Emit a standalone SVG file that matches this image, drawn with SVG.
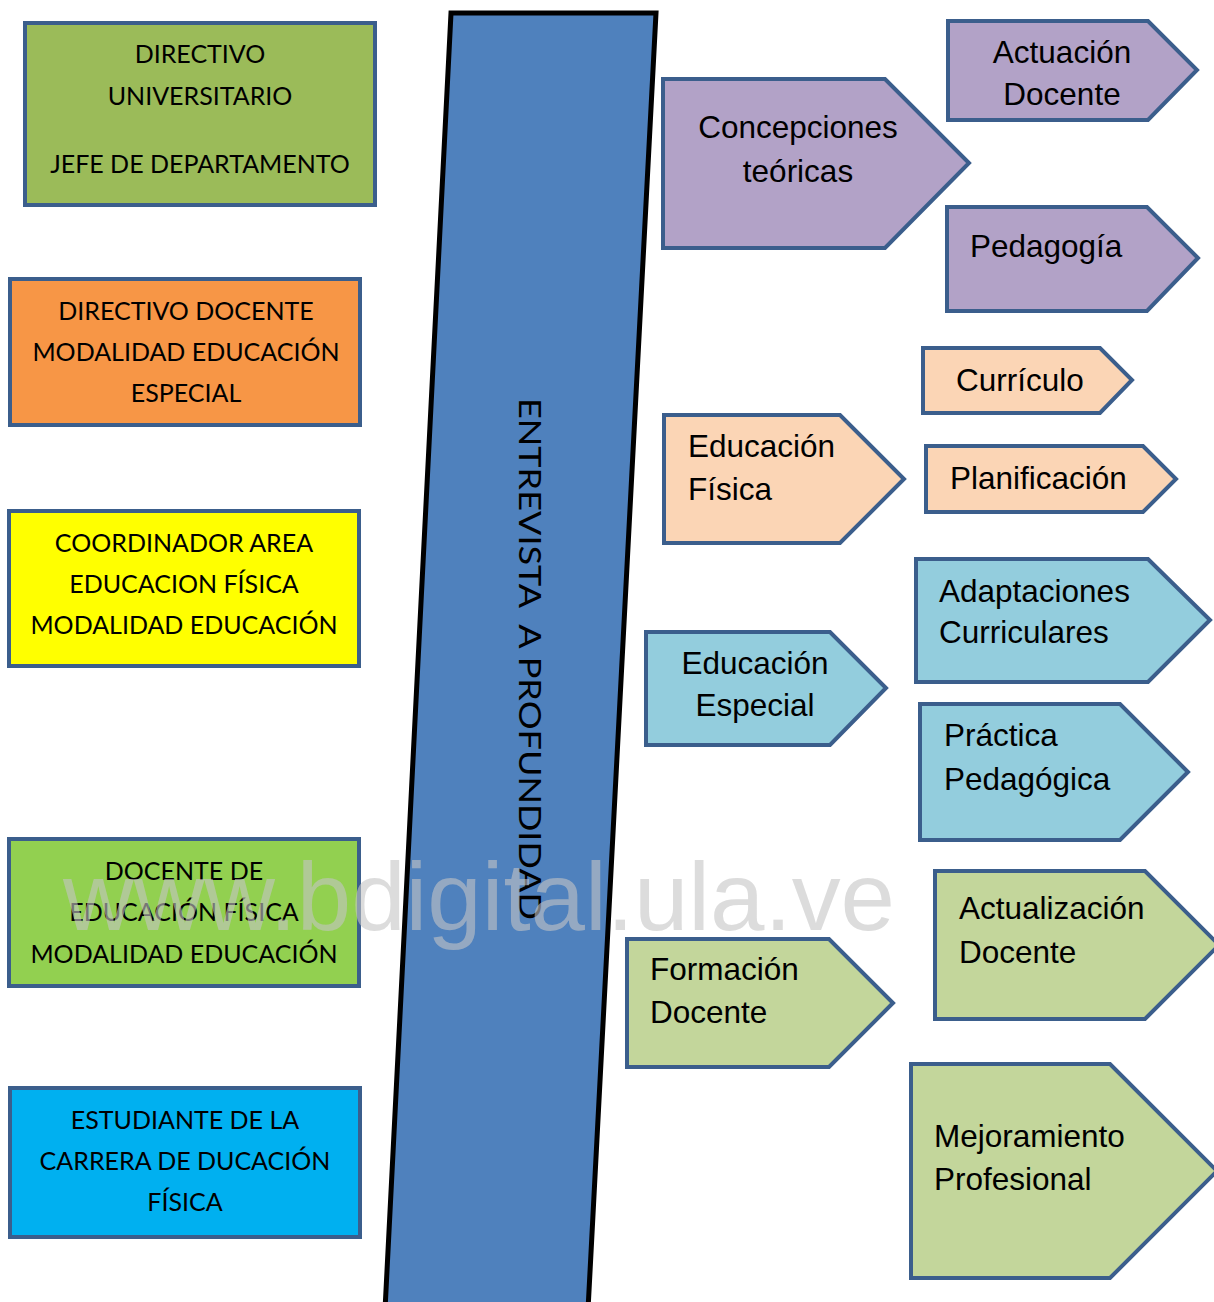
<svg xmlns="http://www.w3.org/2000/svg" width="1214" height="1302" viewBox="0 0 1214 1302">
<style>
.box{stroke:#3B5E8C;stroke-width:4}
.arr{stroke:#3B5E8C;stroke-width:4;stroke-linejoin:miter}
.lt{font-family:Lato,"Liberation Sans",sans-serif;font-size:25px;fill:#000;text-anchor:middle}
.rt{font-family:"Liberation Sans",Arial,sans-serif;font-size:31.5px;fill:#000}
.c{text-anchor:middle}
.purple{fill:#B2A2C7}.peach{fill:#FBD5B5}.blue{fill:#93CDDD}.green{fill:#C3D69B}
</style>
<rect width="1214" height="1302" fill="#fff"/>

<g id="band">
<polygon points="451,13 656,13 588,1310 385,1310" fill="#4F81BD" stroke="#000" stroke-width="5"/>
<text transform="translate(519,398) rotate(90)" font-family="Lato,'Liberation Sans',sans-serif" font-size="30" textLength="522" lengthAdjust="spacingAndGlyphs" fill="#000" xml:space="preserve">ENTREVISTA  A PROFUNDIDAD</text>
</g>

<g id="n-directivo-universitario">
<rect class="box" x="25" y="23" width="350" height="182" fill="#9BBB59"/>
<text class="lt" x="200" y="63">DIRECTIVO</text>
<text class="lt" x="200" y="105">UNIVERSITARIO</text>
<text class="lt" x="200" y="173">JEFE DE DEPARTAMENTO</text>
</g>
<g id="n-directivo-docente">
<rect class="box" x="10" y="279" width="350" height="146" fill="#F79646"/>
<text class="lt" x="186" y="320">DIRECTIVO DOCENTE</text>
<text class="lt" x="186" y="361">MODALIDAD EDUCACIÓN</text>
<text class="lt" x="186" y="402">ESPECIAL</text>
</g>
<g id="n-coordinador">
<rect class="box" x="9" y="511" width="350" height="155" fill="#FFFF00"/>
<text class="lt" x="184" y="552">COORDINADOR AREA</text>
<text class="lt" x="184" y="593">EDUCACION FÍSICA</text>
<text class="lt" x="184" y="634">MODALIDAD EDUCACIÓN</text>
</g>
<g id="n-docente-ef">
<rect class="box" x="9" y="839" width="350" height="147" fill="#92D050"/>
<text class="lt" x="184" y="880">DOCENTE DE</text>
<text class="lt" x="184" y="921">EDUCACIÓN FÍSICA</text>
<text class="lt" x="184" y="963">MODALIDAD EDUCACIÓN</text>
</g>
<g id="n-estudiante">
<rect class="box" x="10" y="1088" width="350" height="149" fill="#00B0F0"/>
<text class="lt" x="185" y="1129">ESTUDIANTE DE LA</text>
<text class="lt" x="185" y="1170">CARRERA DE DUCACIÓN</text>
<text class="lt" x="185" y="1211">FÍSICA</text>
</g>

<g id="n-concepciones">
<polygon class="arr purple" points="663,79 885,79 969,163 885,248 663,248"/>
<text class="rt c" x="798" y="138">Concepciones</text>
<text class="rt c" x="798" y="182">teóricas</text>
</g>
<g id="n-actuacion">
<polygon class="arr purple" points="948,21 1148,21 1197,70 1148,120 948,120"/>
<text class="rt c" x="1062" y="63">Actuación</text>
<text class="rt c" x="1062" y="105">Docente</text>
</g>
<g id="n-pedagogia">
<polygon class="arr purple" points="947,207 1147,207 1198,258 1147,311 947,311"/>
<text class="rt" x="970" y="257">Pedagogía</text>
</g>
<g id="n-educacion-fisica">
<polygon class="arr peach" points="664,415 840,415 904,479 840,543 664,543"/>
<text class="rt" x="688" y="457">Educación</text>
<text class="rt" x="688" y="500">Física</text>
</g>
<g id="n-curriculo">
<polygon class="arr peach" points="923,348 1100,348 1132,380 1100,413 923,413"/>
<text class="rt c" x="1020" y="391">Currículo</text>
</g>
<g id="n-planificacion">
<polygon class="arr peach" points="926,446 1143,446 1176,479 1143,512 926,512"/>
<text class="rt" x="950" y="489">Planificación</text>
</g>
<g id="n-educacion-especial">
<polygon class="arr blue" points="646,632 830,632 886,688 830,745 646,745"/>
<text class="rt c" x="755" y="674">Educación</text>
<text class="rt c" x="755" y="716">Especial</text>
</g>
<g id="n-adaptaciones">
<polygon class="arr blue" points="916,559 1148,559 1210,620 1148,682 916,682"/>
<text class="rt" x="939" y="602">Adaptaciones</text>
<text class="rt" x="939" y="643">Curriculares</text>
</g>
<g id="n-practica">
<polygon class="arr blue" points="920,704 1120,704 1188,772 1120,840 920,840"/>
<text class="rt" x="944" y="746">Práctica</text>
<text class="rt" x="944" y="790">Pedagógica</text>
</g>
<g id="n-formacion">
<polygon class="arr green" points="627,939 829,939 893,1003 829,1067 627,1067"/>
<text class="rt" x="650" y="980">Formación</text>
<text class="rt" x="650" y="1023">Docente</text>
</g>
<g id="n-actualizacion">
<polygon class="arr green" points="935,871 1145,871 1219,945 1145,1019 935,1019"/>
<text class="rt" x="959" y="919">Actualización</text>
<text class="rt" x="959" y="963">Docente</text>
</g>
<g id="n-mejoramiento">
<polygon class="arr green" points="911,1064 1110,1064 1217,1171 1110,1278 911,1278"/>
<text class="rt" x="934" y="1147">Mejoramiento</text>
<text class="rt" x="934" y="1190">Profesional</text>
</g>

<g id="connectors"></g>

<text x="63" y="930" font-family="'Liberation Sans',Arial,sans-serif" font-size="96" textLength="832" lengthAdjust="spacingAndGlyphs" fill="#C4C4C4" fill-opacity="0.6">www.bdigital.ula.ve</text>
</svg>
